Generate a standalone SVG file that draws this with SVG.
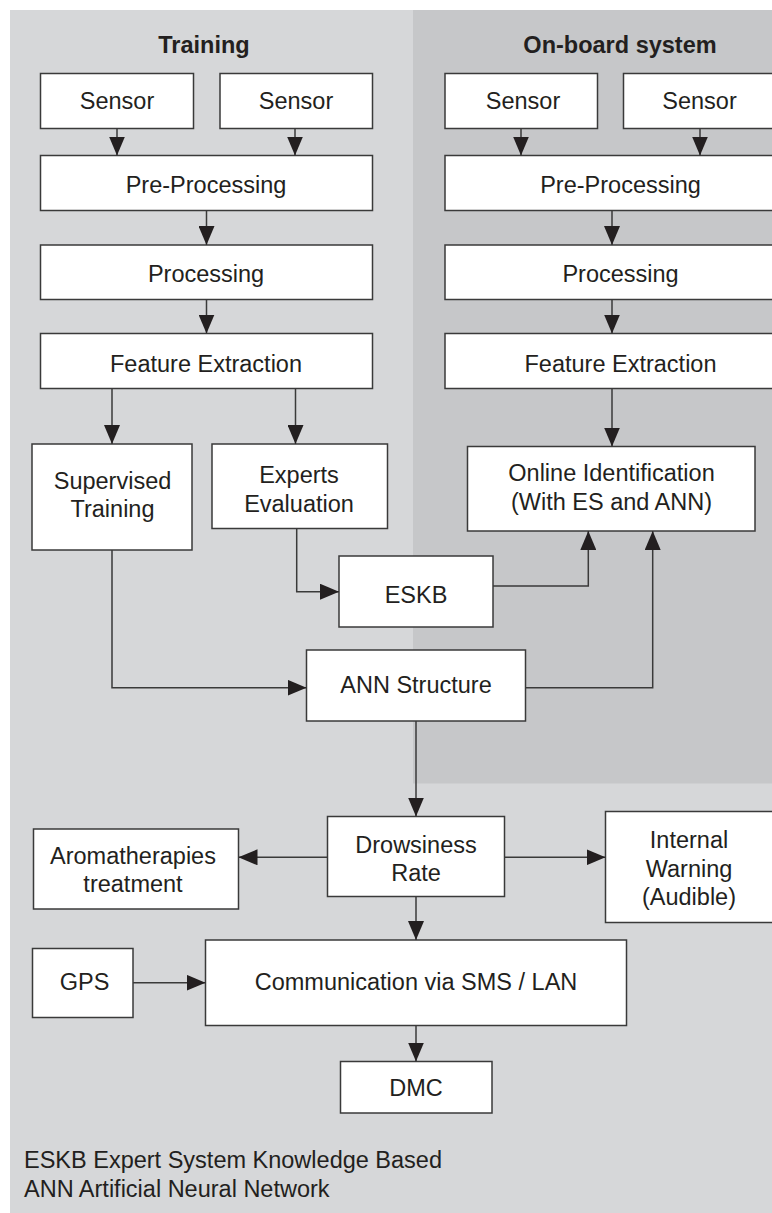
<svg xmlns="http://www.w3.org/2000/svg" width="772" height="1213" viewBox="0 0 772 1213">
  <style>
    .box { fill: #ffffff; stroke: #3a3a3a; stroke-width: 1.5; }
    .lbl { font-family: "Liberation Sans", Arial, sans-serif; font-size: 23.5px; fill: #231f20; text-anchor: middle; }
    .title { font-family: "Liberation Sans", Arial, sans-serif; font-size: 23.5px; font-weight: bold; fill: #231f20; text-anchor: middle; }
    .note { font-family: "Liberation Sans", Arial, sans-serif; font-size: 23.5px; fill: #231f20; }
    .wire { fill: none; stroke: #3a3a3a; stroke-width: 1.5; marker-end: url(#arrow); }
  </style>
  <defs>
    <marker id="arrow" markerUnits="userSpaceOnUse" markerWidth="19" markerHeight="16" refX="19" refY="8" orient="auto">
      <path d="M0,0 L19,8 L0,16 z" fill="#231f20"/>
    </marker>
  </defs>

  <!-- background panels -->
  <rect x="10" y="10" width="762" height="1203" fill="#d6d7d9"/>
  <rect x="413" y="10" width="359" height="773.5" fill="#c6c7c9"/>

  <text class="title" x="204" y="53">Training</text>
  <text class="title" x="620" y="53">On-board system</text>

  <!-- training column -->
  <g id="sensor-t1"><rect class="box" x="40.5" y="73.5" width="153" height="55"/><text class="lbl" x="117" y="108.5">Sensor</text></g>
  <g id="sensor-t2"><rect class="box" x="220" y="73.5" width="152.5" height="55"/><text class="lbl" x="296" y="108.5">Sensor</text></g>
  <g id="preproc-t"><rect class="box" x="40.5" y="155.5" width="332" height="55"/><text class="lbl" x="206" y="192.5">Pre-Processing</text></g>
  <g id="proc-t"><rect class="box" x="40.5" y="245" width="332" height="54.5"/><text class="lbl" x="206" y="281.5">Processing</text></g>
  <g id="feat-t"><rect class="box" x="40.5" y="333.5" width="332" height="55"/><text class="lbl" x="206" y="371.5">Feature Extraction</text></g>
  <g id="supervised"><rect class="box" x="32" y="444" width="160" height="106"/><text class="lbl" x="112.5" y="488.5">Supervised</text><text class="lbl" x="112.5" y="516.5">Training</text></g>
  <g id="experts"><rect class="box" x="212" y="444" width="175.5" height="84.5"/><text class="lbl" x="299" y="482.5">Experts</text><text class="lbl" x="299" y="511.5">Evaluation</text></g>
  <g id="eskb"><rect class="box" x="339" y="556" width="154" height="71"/><text class="lbl" x="416" y="603">ESKB</text></g>
  <g id="ann"><rect class="box" x="306.5" y="650" width="219" height="71"/><text class="lbl" x="416" y="693">ANN Structure</text></g>

  <!-- on-board column -->
  <g id="sensor-o1"><rect class="box" x="445" y="73.5" width="152.5" height="55"/><text class="lbl" x="523" y="108.5">Sensor</text></g>
  <g id="sensor-o2"><rect class="box" x="623.5" y="73.5" width="160" height="55"/><text class="lbl" x="699.5" y="108.5">Sensor</text></g>
  <g id="preproc-o"><rect class="box" x="445" y="155.5" width="340" height="55"/><text class="lbl" x="620.5" y="192.5">Pre-Processing</text></g>
  <g id="proc-o"><rect class="box" x="445" y="245" width="340" height="54.5"/><text class="lbl" x="620.5" y="281.5">Processing</text></g>
  <g id="feat-o"><rect class="box" x="445" y="333.5" width="340" height="55"/><text class="lbl" x="620.5" y="371.5">Feature Extraction</text></g>
  <g id="online"><rect class="box" x="467.5" y="446.5" width="287.5" height="84.5"/><text class="lbl" x="611.5" y="480.5">Online Identification</text><text class="lbl" x="611.5" y="510">(With ES and ANN)</text></g>

  <!-- output stage -->
  <g id="drowsiness"><rect class="box" x="327.5" y="816.5" width="177" height="80"/><text class="lbl" x="416" y="852.5">Drowsiness</text><text class="lbl" x="416" y="880.5">Rate</text></g>
  <g id="aroma"><rect class="box" x="33.5" y="829" width="205" height="80"/><text class="lbl" x="133" y="863.5">Aromatherapies</text><text class="lbl" x="133" y="891.5">treatment</text></g>
  <g id="warning"><rect class="box" x="605.5" y="811.5" width="180" height="111"/><text class="lbl" x="689" y="847.5">Internal</text><text class="lbl" x="689" y="876.5">Warning</text><text class="lbl" x="689" y="905">(Audible)</text></g>
  <g id="comm"><rect class="box" x="205.5" y="940" width="421" height="85.5"/><text class="lbl" x="416" y="989.5">Communication via SMS / LAN</text></g>
  <g id="gps"><rect class="box" x="32.5" y="948.5" width="100.5" height="69"/><text class="lbl" x="84.5" y="990">GPS</text></g>
  <g id="dmc"><rect class="box" x="340.5" y="1061.5" width="151.5" height="51.5"/><text class="lbl" x="416" y="1096">DMC</text></g>

  <!-- connectors -->
  <g id="connectors">
    <path class="wire" d="M117,128.5 V155.5"/>
    <path class="wire" d="M295,128.5 V155.5"/>
    <path class="wire" d="M206.5,210.5 V245"/>
    <path class="wire" d="M206.5,299.5 V333.5"/>
    <path class="wire" d="M112,388.5 V444"/>
    <path class="wire" d="M295.5,388.5 V444"/>
    <path class="wire" d="M296.7,528.5 V591.7 H339"/>
    <path class="wire" d="M112,550 V687.7 H306.5"/>
    <path class="wire" d="M493,586 H588.3 V531"/>
    <path class="wire" d="M525.5,687.7 H652.7 V531"/>
    <path class="wire" d="M521,128.5 V155.5"/>
    <path class="wire" d="M700,128.5 V155.5"/>
    <path class="wire" d="M612,210.5 V245"/>
    <path class="wire" d="M612,299.5 V333.5"/>
    <path class="wire" d="M612,388.5 V446.5"/>
    <path class="wire" d="M416,721 V816.5"/>
    <path class="wire" d="M327.5,857.3 H238.5"/>
    <path class="wire" d="M504.5,857.3 H605.5"/>
    <path class="wire" d="M416,896.5 V940"/>
    <path class="wire" d="M133,982.7 H205.5"/>
    <path class="wire" d="M416,1025.5 V1061.5"/>
  </g>

  <text class="note" x="24" y="1168">ESKB Expert System Knowledge Based</text>
  <text class="note" x="24" y="1197">ANN Artificial Neural Network</text>
</svg>
